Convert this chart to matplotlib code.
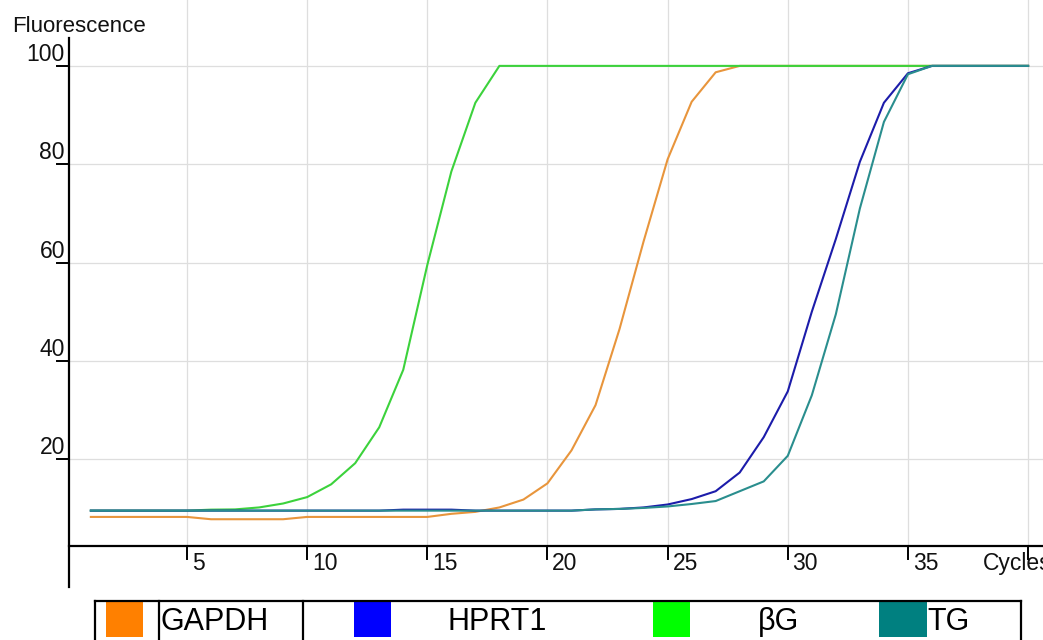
import numpy as np
import matplotlib
matplotlib.use("Agg")
import matplotlib.pyplot as plt
from matplotlib.patches import Rectangle

plt.rcParams['font.family'] = ['Liberation Sans', 'DejaVu Sans']

# ---------------- data ----------------
cycles = list(range(1, 41))

gapdh = [8.27, 8.27, 8.27, 8.27, 8.27, 7.8, 7.8, 7.8, 7.8, 8.27,
         8.27, 8.27, 8.27, 8.27, 8.27, 8.9, 9.3, 10.2, 11.8, 15.1,
         21.8, 31.0, 46.5, 64.3, 81.0, 92.7, 98.7, 100, 100, 100,
         100, 100, 100, 100, 100, 100, 100, 100, 100, 100]

hprt1 = [9.55, 9.55, 9.55, 9.55, 9.55, 9.55, 9.55, 9.55, 9.55, 9.55,
         9.55, 9.55, 9.55, 9.75, 9.75, 9.75, 9.55, 9.55, 9.55, 9.55,
         9.55, 9.8, 9.9, 10.2, 10.8, 11.9, 13.5, 17.3, 24.5, 33.8,
         50.0, 64.8, 80.5, 92.5, 98.5, 100, 100, 100, 100, 100]

beta_g = [9.55, 9.55, 9.55, 9.55, 9.55, 9.75, 9.8, 10.2, 11.0, 12.3,
          14.9, 19.2, 26.5, 38.2, 59.5, 78.5, 92.5, 100, 100, 100,
          100, 100, 100, 100, 100, 100, 100, 100, 100, 100,
          100, 100, 100, 100, 100, 100, 100, 100, 100, 100]

tg = [9.55, 9.55, 9.55, 9.55, 9.55, 9.55, 9.55, 9.55, 9.55, 9.55,
      9.55, 9.55, 9.55, 9.55, 9.55, 9.55, 9.55, 9.55, 9.55, 9.55,
      9.55, 9.8, 9.9, 10.1, 10.4, 10.9, 11.5, 13.5, 15.5, 20.7,
      33.0, 49.5, 71.0, 88.6, 98.3, 100, 100, 100, 100, 100]

series_names = ['GAPDH', 'HPRT1', 'βG', 'TG']
line_colors = ['#e8953c', '#1c1caa', '#3cd23c', '#2a8e8e']
swatch_colors = ['#ff8000', '#0000ff', '#00ff00', '#008080']

x_ticks = [5, 10, 15, 20, 25, 30, 35]
x_tick_marks = [5, 10, 15, 20, 25, 30, 35, 40]
x_grid = [5, 10, 15, 20, 25, 30, 35, 40]
y_ticks = [20, 40, 60, 80, 100]

# ---------------- figure ----------------
fig = plt.figure(figsize=(10.43, 6.40), dpi=100)
ax = fig.add_axes([0, 0, 1, 1])
ax.set_xlim(-2.78, 40.62)
ax.set_ylim(-16.76, 113.4)
ax.axis('off')

x0 = 0.11      # y-axis position (cycles)
y0 = 2.36      # x-axis position (fluorescence)
xr = 40.62
ytop = 113.4

# grid
for gx in x_grid:
    ax.plot([gx, gx], [y0, ytop], color='#dedede', lw=0.9, zorder=1)
for gy in y_ticks:
    ax.plot([x0, xr], [gy, gy], color='#dedede', lw=0.9, zorder=1)

# curves
order = [(gapdh, 0), (beta_g, 2), (hprt1, 1), (tg, 3)]
for vals, i in order:
    ax.plot(cycles, vals, color=line_colors[i], lw=1.5, zorder=3,
            solid_joinstyle='round')

# axes lines
ax.plot([x0, xr], [y0, y0], color='black', lw=1.6, zorder=4, clip_on=False)
ax.plot([x0, x0], [-6.0, 105.7], color='black', lw=1.6, zorder=4)

# y ticks
for v in y_ticks:
    ax.plot([x0 - 0.5, x0], [v, v], color='black', lw=1.4, zorder=4)
    ax.text(-0.08, v + 1.0, str(v), ha='right', va='baseline',
            fontsize=16.5, color='#111111')

# x ticks
for c in x_tick_marks:
    ax.plot([c, c], [y0, y0 - 2.6], color='black', lw=1.4, zorder=4)
for c in x_ticks:
    ax.text(c + 0.2, -2.55, str(c), ha='left', va='baseline',
            fontsize=16.5, color='#111111')

ax.text(38.13, -2.55, 'Cycles', ha='left', va='baseline', fontsize=16.5,
        color='#111111')
ax.text(-2.28, 106.9, 'Fluorescence', ha='left', va='baseline', fontsize=16,
        color='#111111')

# ---------------- legend (table-like) ----------------
lg = fig.add_axes([0, 0, 1, 1], zorder=10)
lg.set_xlim(0, 1043)
lg.set_ylim(640, 0)
lg.axis('off')
lg.patch.set_alpha(0)

lw_box = 1.6
lg.plot([95, 1021], [601, 601], color='black', lw=lw_box)
for xx in [95, 158.5, 302.5, 1021]:
    lg.plot([xx, xx], [601, 645], color='black', lw=lw_box, clip_on=False)

sw_x = [(106, 143), (354, 391), (653, 690), (879, 927)]
txt_x = [161, 448, 758, 927]
for i, name in enumerate(series_names):
    a, b = sw_x[i]
    lg.add_patch(Rectangle((a, 602), b - a, 35, color=swatch_colors[i], lw=0))
    lg.text(txt_x[i], 630, name, ha='left', va='baseline', fontsize=22,
            color='black')

fig.savefig('out.png', dpi=100)
